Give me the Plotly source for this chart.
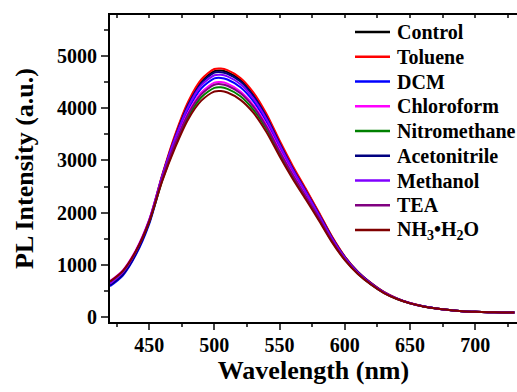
import plotly.graph_objects as go

wavelength = [420, 430, 440, 450, 460, 470, 480, 490, 500, 505, 510, 520, 530, 540, 550, 560,
              570, 580, 590, 600, 610, 620, 630, 640, 650, 660, 670, 680, 690, 700, 710, 720, 730]

control = [620, 830, 1230, 1820, 2700, 3470, 4100, 4510, 4710, 4720, 4690, 4540, 4260, 3860, 3350, 2870,
           2440, 1995, 1540, 1155, 865, 650, 477, 354, 267, 206, 166, 136, 113, 101, 94, 90, 88]
toluene = [640, 850, 1250, 1840, 2720, 3500, 4130, 4550, 4750, 4760, 4730, 4580, 4300, 3890, 3380, 2900,
           2460, 2010, 1550, 1160, 870, 655, 480, 356, 268, 207, 166, 136, 113, 101, 94, 90, 88]
dcm = [590, 800, 1200, 1780, 2640, 3380, 3980, 4380, 4570, 4580, 4550, 4400, 4130, 3740, 3250, 2790,
       2370, 1940, 1500, 1130, 850, 640, 470, 350, 265, 205, 165, 135, 112, 100, 93, 89, 87]
chloroform = [690, 900, 1290, 1860, 2680, 3360, 3920, 4300, 4490, 4500, 4470, 4320, 4060, 3680, 3200, 2750,
              2335, 1915, 1480, 1115, 840, 633, 466, 348, 264, 204, 164, 134, 111, 99, 92, 88, 86]
nitromethane = [650, 860, 1250, 1810, 2610, 3290, 3840, 4210, 4390, 4400, 4370, 4230, 3970, 3600, 3130, 2690,
                2290, 1880, 1455, 1100, 830, 626, 462, 346, 262, 203, 163, 134, 111, 99, 92, 88, 86]
acetonitrile = [610, 820, 1220, 1810, 2690, 3450, 4070, 4480, 4680, 4690, 4660, 4510, 4230, 3830, 3330, 2850,
                2420, 1980, 1530, 1150, 862, 648, 475, 353, 266, 206, 165, 135, 112, 100, 93, 89, 87]
methanol = [640, 860, 1260, 1850, 2700, 3430, 4030, 4440, 4630, 4640, 4610, 4460, 4185, 3790, 3295, 2825,
            2400, 1960, 1515, 1140, 856, 644, 472, 352, 266, 205, 165, 135, 112, 100, 93, 89, 87]
tea = [670, 880, 1270, 1840, 2650, 3330, 3890, 4265, 4450, 4460, 4430, 4285, 4025, 3645, 3170, 2725,
       2315, 1900, 1470, 1110, 836, 630, 464, 347, 263, 204, 164, 134, 111, 99, 92, 88, 86]
nh3_h2o = [680, 890, 1270, 1820, 2600, 3250, 3790, 4145, 4320, 4330, 4300, 4160, 3910, 3540, 3080, 2650,
           2255, 1855, 1440, 1090, 823, 622, 460, 345, 262, 203, 163, 134, 111, 99, 92, 88, 86]

names = ["Control", "Toluene", "DCM", "Chloroform", "Nitromethane", "Acetonitrile", "Methanol", "TEA",
         "NH<sub>3</sub>•H<sub>2</sub>O"]
series = [control, toluene, dcm, chloroform, nitromethane, acetonitrile, methanol, tea, nh3_h2o]
colors = ["#000000", "#FF0000", "#0000FF", "#FF00FF", "#008000", "#000080", "#8000FF", "#800080", "#800000"]

FONT = "Liberation Serif"
W, H = 517, 392
ML, MR, MT, MB = 110, 0, 15, 70
PW, PH = W - ML - MR, H - MT - MB

fig = go.Figure()
for n, s, c in zip(names, series, colors):
    fig.add_trace(go.Scatter(x=wavelength, y=s, name=n, mode="lines", showlegend=False,
                             line=dict(color=c, width=2, shape="spline", smoothing=0.8)))

# legend drawn as line samples + text (Origin-style compact legend)
shapes = []
annotations = []
for i, (n, c) in enumerate(zip(names, colors)):
    ypx = 32 + i * 24.75
    yp = (H - MB - ypx) / PH
    shapes.append(dict(type="line", xref="paper", yref="paper",
                       x0=(355 - ML) / PW, x1=(390 - ML) / PW, y0=yp, y1=yp,
                       line=dict(color=c, width=2.5)))
    annotations.append(dict(xref="paper", yref="paper", x=(395 - ML) / PW, y=yp,
                            xanchor="left", yanchor="middle", showarrow=False,
                            text="<b>" + n + "</b>",
                            font=dict(family=FONT, size=20, color="black")))

fig.update_layout(
    width=W, height=H,
    margin=dict(l=ML, r=MR, t=MT, b=MB),
    plot_bgcolor="white", paper_bgcolor="white",
    font=dict(family=FONT, size=19, color="black"),
    showlegend=False,
    shapes=shapes,
    annotations=annotations,
    xaxis=dict(range=[420, 732], dtick=50, tick0=450, ticks="outside", ticklen=6, tickwidth=2,
               showline=True, linewidth=2, linecolor="black", showgrid=False, zeroline=False,
               minor=dict(dtick=25, tick0=425, ticks="outside", ticklen=3, tickwidth=2, showgrid=False),
               tickfont=dict(family=FONT, size=20, weight="bold"), ticklabelstandoff=-2,
               title=dict(text="<b>Wavelength (nm)</b>", font=dict(family=FONT, size=26), standoff=6)),
    xaxis2=dict(overlaying="x", side="top", matches="x", range=[420, 732], dtick=25, tick0=425,
                ticks="inside", ticklen=3, tickwidth=1.5, showticklabels=False,
                showline=True, linewidth=2, linecolor="black", showgrid=False, zeroline=False),
    yaxis=dict(range=[-95, 5785], dtick=1000, tick0=0, ticks="outside", ticklen=7, tickwidth=2,
               showline=True, linewidth=2, linecolor="black", showgrid=False, zeroline=False,
               minor=dict(dtick=500, tick0=0, ticks="outside", ticklen=4, tickwidth=2, showgrid=False),
               tickfont=dict(family=FONT, size=20, weight="bold"),
               title=dict(text="<b>PL Intensity (a.u.)</b>", font=dict(family=FONT, size=26), standoff=16)),
)
fig.add_trace(go.Scatter(x=[420], y=[-1000], xaxis="x2", mode="lines", showlegend=False,
                         hoverinfo="skip", line=dict(color="rgba(0,0,0,0)")))

fig.write_html("out.html")
